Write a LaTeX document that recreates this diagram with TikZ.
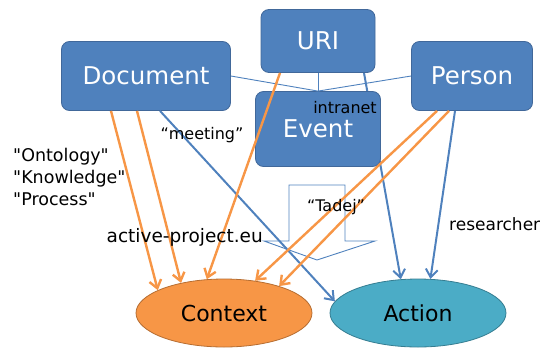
\documentclass[tikz,border=0pt]{standalone}
\usepackage{fontspec}
\setmainfont{DejaVu Sans}[Ligatures=TeXOff]
\usetikzlibrary{arrows.meta,backgrounds,shapes.geometric}
\definecolor{boxblue}{HTML}{4F81BD}
\definecolor{boxedge}{HTML}{41689A}
\definecolor{linkorange}{HTML}{F79646}
\definecolor{ctxedge}{HTML}{B66D31}
\definecolor{actfill}{HTML}{4BACC6}
\definecolor{actedge}{HTML}{357D91}
\begin{document}
\begin{tikzpicture}[x=1pt,y=-1pt,
                    entity/.style={draw=boxedge, fill=boxblue, thick, rounded corners=8pt, text=white, font=\fontsize{24.5}{28}\selectfont},
                    goal/.style={draw, ellipse, thick, minimum width=176pt, minimum height=68pt, font=\fontsize{22}{26}\selectfont},
                    note/.style={font=\fontsize{16}{22}\selectfont, inner sep=0pt},
                    link/.style={draw=boxblue, line width=0.9pt},
                    toctx/.style={draw=linkorange, line width=2.4pt, -{Straight Barb[length=8pt,width=12pt]}},
                    toact/.style={draw=boxblue, line width=2pt, -{Straight Barb[length=8pt,width=12pt]}}
                    ]
                    \useasboundingbox (0,0) rectangle (540,348);
                    \node[entity, minimum width=169pt, minimum height=69pt] (document) at (146,76) {Document};
                    \node[entity, minimum width=114pt, minimum height=63pt] (uri) at (318,41) {URI};
                    \node[entity, minimum width=125pt, minimum height=75pt] (event) at (318,129) {Event};
                    \node[entity, minimum width=121pt, minimum height=69pt] (person) at (472,76) {Person};
                    \node[goal, draw=ctxedge, fill=linkorange] (context) at (224,313) {Context};
                    \node[goal, draw=actedge, fill=actfill] (action) at (418,313) {Action};

                    % hollow arrow
                    \draw[link] (289,185) -- (345,185) -- (345,241) -- (375,241) -- (317,260) -- (264,241) -- (289,241) -- cycle;

                    \foreach \i in {document.east, uri.south, person.west}{
                        \draw[link] (\i) -- (event.north);
                    }
                    \begin{scope}[on background layer]
                        \draw[toact] ([xshift=46pt]uri.south) -- (action.117);
                    \end{scope}
                    \foreach \n/\dx/\a in {document/14/172, person/-17/70}{
                        \draw[toact] ([xshift=\dx pt]\n.south) -- (action.\a);
                    }
                    \foreach \n/\dx/\a in {document/-35/161, document/-9/145, uri/-38/117, person/-35/46, person/-23/26}{
                        \draw[toctx] ([xshift=\dx pt]\n.south) -- (context.\a);
                    }

                    \node[note, font=\fontsize{17.5}{22}\selectfont, align=left, anchor=west] (terms) at (13,177) {"Ontology"\\"Knowledge"\\"Process"};
                    \node[note] (meeting) at (202,135) {“meeting”};
                    \node[note] (intranet) at (345,108) {intranet};
                    \node[note] (tadej) at (336,207) {“Tadej”};
                    \node[note, font=\fontsize{18.5}{22}\selectfont, anchor=east] (site) at (263,237) {active-project.eu};
                    \node[note, font=\fontsize{17}{22}\selectfont, anchor=west] (researcher) at (449,224) {researcher};
                \end{tikzpicture}
\end{document}
